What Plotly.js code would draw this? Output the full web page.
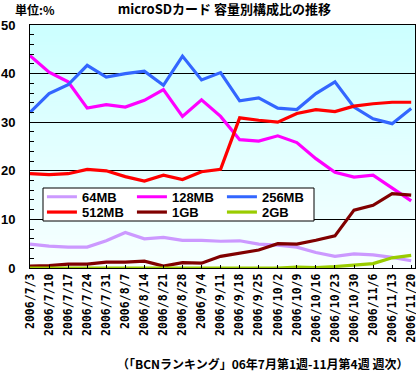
<!DOCTYPE html>
<html>
<head>
<meta charset="utf-8">
<script src="https://cdn.plot.ly/plotly-3.0.1.min.js"></script>
<style>
  html, body { margin: 0; padding: 0; background: #ffffff; }
  #chart { width: 416px; height: 373px; }
</style>
</head>
<body>
<div id="chart"></div>
<script>
// Weekly categories (tick labels)
var weeks = [
  "2006/7/3", "2006/7/10", "2006/7/17", "2006/7/24", "2006/7/31",
  "2006/8/7", "2006/8/14", "2006/8/21", "2006/8/28", "2006/9/4",
  "2006/9/11", "2006/9/18", "2006/9/25", "2006/10/2", "2006/10/9",
  "2006/10/16", "2006/10/23", "2006/10/30", "2006/11/6", "2006/11/13",
  "2006/11/20"
];

// Share by capacity (%)
var mb64  = [4.9, 4.5, 4.3, 4.3, 5.6, 7.3, 6.0, 6.3, 5.7, 5.7, 5.5, 5.6, 4.9, 4.7, 4.3, 3.2, 2.4, 2.9, 2.7, 2.2, 1.5];
var mb128 = [43.7, 40.3, 38.3, 32.9, 33.6, 33.1, 34.5, 36.7, 31.2, 34.6, 31.2, 26.4, 26.1, 27.2, 25.8, 22.5, 19.7, 18.7, 19.1, 16.5, 13.8];
var mb256 = [32.0, 35.9, 37.7, 41.7, 39.3, 40.0, 40.5, 37.6, 43.6, 38.7, 40.2, 34.4, 35.0, 32.9, 32.6, 35.9, 38.3, 33.1, 30.7, 29.7, 32.8];
var mb512 = [19.4, 19.2, 19.4, 20.3, 20.0, 18.8, 17.9, 19.1, 18.2, 19.8, 20.3, 30.9, 30.4, 30.0, 31.8, 32.6, 32.2, 33.3, 33.8, 34.1, 34.1];
var gb1   = [0.4, 0.5, 0.8, 0.8, 1.2, 1.2, 1.4, 0.4, 1.1, 1.0, 2.4, 3.0, 3.7, 5.0, 4.9, 5.7, 6.6, 11.9, 12.9, 15.3, 15.0];
var gb2   = [0, 0, 0, 0, 0, 0, 0, 0, 0, 0, 0, 0, 0, 0, 0.2, 0.1, 0.3, 0.6, 0.9, 2.1, 2.6];

var seriesNames = ["64MB", "128MB", "256MB", "512MB", "1GB", "2GB"];
var seriesData = [mb64, mb128, mb256, mb512, gb1, gb2];
var seriesColors = ["#CC99FF", "#FF00FF", "#3366FF", "#FF0000", "#800000", "#99CC00"];
var seriesLegend = ["legend", "legend", "legend", "legend2", "legend2", "legend2"];

var traces = seriesNames.map(function (n, i) {
  return {
    type: "scatter",
    mode: "lines",
    name: n,
    x: weeks,
    y: seriesData[i],
    line: { color: seriesColors[i], width: 3.2 },
    legend: seriesLegend[i],
    hoverinfo: "skip"
  };
});

// gradient background image for the plot area
function gradientURL() {
  var c = document.createElement("canvas");
  c.width = 4; c.height = 256;
  var ctx = c.getContext("2d");
  var g = ctx.createLinearGradient(0, 0, 0, 256);
  g.addColorStop(0, "#CCFFFF");
  g.addColorStop(1, "#F8FFFF");
  ctx.fillStyle = g;
  ctx.fillRect(0, 0, 4, 256);
  return c.toDataURL();
}

var boldFont = { family: "Liberation Sans, Arial, sans-serif", size: 13, color: "#000", weight: "bold" };
var jpFont = { family: "Noto Sans CJK JP, sans-serif", size: 12, color: "#000", weight: "bold" };

var layout = {
  width: 416,
  height: 373,
  margin: { l: 30, r: 1, t: 25, b: 105, pad: 0 },
  paper_bgcolor: "#FFFFFF",
  plot_bgcolor: "rgba(0,0,0,0)",
  showlegend: true,
  title: {
    text: "microSDカード 容量別構成比の推移",
    font: { family: "Noto Sans CJK JP, sans-serif", size: 13, color: "#000", weight: "bold" },
    x: 210 / 416,
    xanchor: "center",
    xref: "paper",
    y: 1 - 9 / 373,
    yanchor: "middle",
    yref: "container"
  },
  xaxis: {
    type: "category",
    range: [0, 20.2],
    showgrid: false,
    zeroline: false,
    showline: true,
    linecolor: "#000",
    linewidth: 1,
    mirror: true,
    ticks: "inside",
    ticklen: 3,
    tickcolor: "#000",
    tickangle: -90,
    tickfont: { family: "DejaVu Sans Mono, monospace", size: 11.5, color: "#000", weight: "bold" },
    fixedrange: true
  },
  yaxis: {
    range: [0, 50],
    dtick: 10,
    showgrid: true,
    gridcolor: "#000",
    gridwidth: 1,
    zeroline: false,
    showline: true,
    linecolor: "#000",
    linewidth: 1,
    mirror: true,
    ticks: "inside",
    ticklen: 4,
    tickcolor: "#000",
    minor: { dtick: 2, ticks: "inside", ticklen: 4, tickcolor: "#000", showgrid: false },
    tickfont: boldFont,
    ticklabelstandoff: 11,
    fixedrange: true
  },
  legend: {
    orientation: "h",
    x: 0.031, xanchor: "left",
    y: 0.293, yanchor: "middle",
    bgcolor: "rgba(0,0,0,0)",
    borderwidth: 0,
    font: boldFont,
    entrywidth: 45,
    itemwidth: 30,
    traceorder: "normal"
  },
  legend2: {
    orientation: "h",
    x: 0.031, xanchor: "left",
    y: 0.230, yanchor: "middle",
    bgcolor: "rgba(0,0,0,0)",
    borderwidth: 0,
    font: boldFont,
    entrywidth: 45,
    itemwidth: 30,
    traceorder: "normal"
  },
  shapes: [{
    type: "rect",
    xref: "paper", yref: "paper",
    x0: 0.0338, x1: 0.7377, y0: 0.1934, y1: 0.3292,
    fillcolor: "#FFFFFF",
    line: { color: "#000", width: 1 },
    layer: "above"
  }],
  images: [{
    source: gradientURL(),
    xref: "paper", yref: "paper",
    x: 0, y: 1, sizex: 1, sizey: 1,
    xanchor: "left", yanchor: "top",
    sizing: "stretch",
    layer: "below"
  }],
  annotations: [
    {
      text: "単位:%",
      xref: "paper", yref: "paper",
      x: (13 - 30) / 385, xanchor: "left",
      y: 1 + (25 - 9) / 243, yanchor: "middle",
      showarrow: false,
      font: jpFont
    },
    {
      text: "（「BCNランキング」06年7月第1週-11月第4週 週次）",
      xref: "paper", yref: "paper",
      x: (410 - 30) / 385, xanchor: "right",
      y: (268 - 363) / 243, yanchor: "middle",
      showarrow: false,
      font: jpFont
    }
  ]
};

Plotly.newPlot("chart", traces, layout, { displayModeBar: false, staticPlot: true });
</script>
</body>
</html>
